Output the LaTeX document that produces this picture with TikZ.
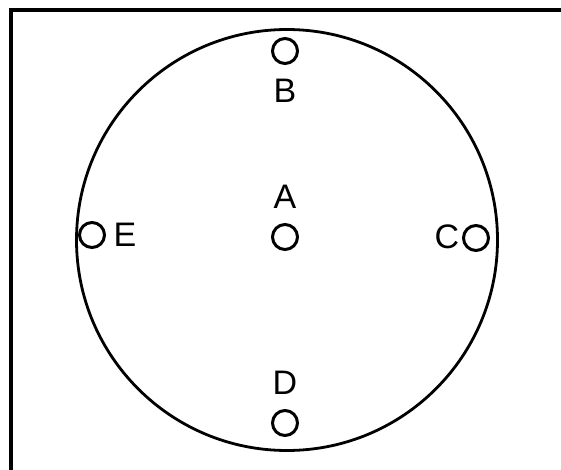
\documentclass[tikz,border=0pt]{standalone}
\usepackage{fontspec}
\setmainfont{Liberation Sans}
\begin{document}
\begin{tikzpicture}[x=1pt,y=-1pt,
  hole/.style={circle,draw,line width=3pt,minimum size=25pt,inner sep=0pt},
  lbl/.style={font=\fontsize{34}{34}\selectfont,inner sep=0pt}]
\useasboundingbox (0,0) rectangle (561,470);
\draw[line width=3.2pt] (11,472) -- (11,10) -- (563,10);
\node[circle,draw,line width=2.8pt,minimum size=421pt,inner sep=0pt] (big) at (287,240) {};
\node[hole] (hB) at (285,51) {};
\node[lbl] (B) at (285,91) {B};
\node[lbl] (A) at (285,197) {A};
\node[hole] (hA) at (285,237) {};
\node[hole] (hE) at (92,235) {};
\node[lbl] (E) at (125,235) {E};
\node[lbl] (C) at (447,237) {C};
\node[hole] (hC) at (476,238) {};
\node[lbl] (D) at (285,383) {D};
\node[hole] (hD) at (285,423) {};
\end{tikzpicture}
\end{document}
